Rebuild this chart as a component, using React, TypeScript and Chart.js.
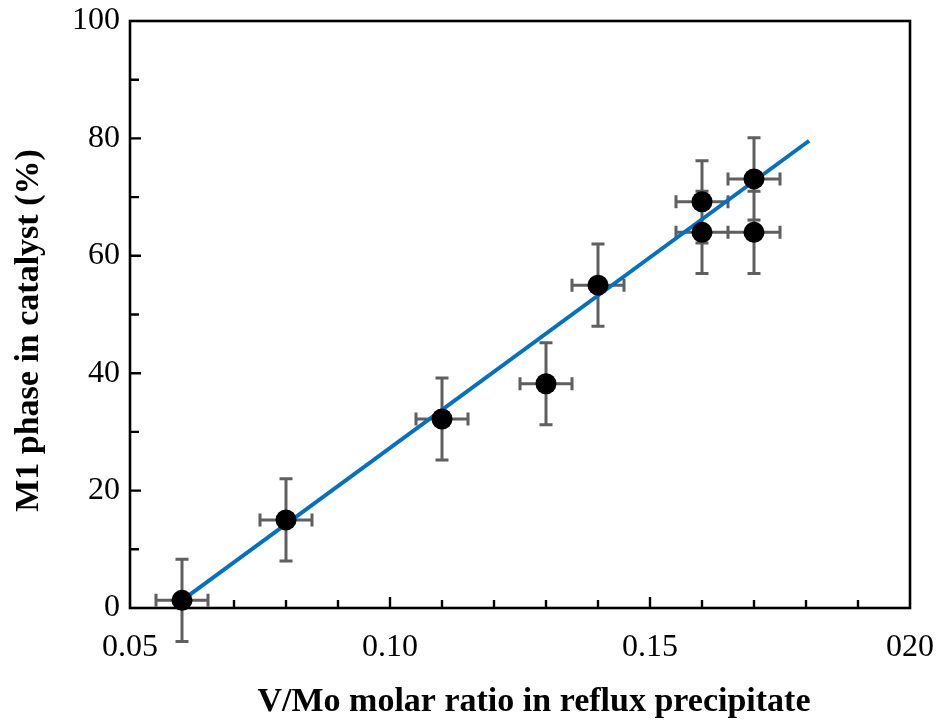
import React, { useEffect, useRef } from "react";
import { Chart, registerables } from "chart.js";

Chart.register(...registerables);

// ---- data ----
const ratios = [0.06, 0.08, 0.11, 0.13, 0.14, 0.16, 0.16, 0.17, 0.17];
const m1Phase = [1.3, 15, 32.2, 38.2, 55, 69.2, 64, 73.1, 64];
const m1Error = [7, 7, 7, 7, 7, 7, 7, 7, 7];
const ratioError = [0.005, 0.005, 0.005, 0.005, 0.005, 0.005, 0.005, 0.005, 0.005];
const fitX = [0.06, 0.1806];
const fitY = [1.3, 79.6];
const xTickValues = [0.05, 0.1, 0.15, 0.2];
const xTickLabels = ["0.05", "0.10", "0.15", "020"];
const yTickValues = [0, 20, 40, 60, 80, 100];
const yTickLabels = ["0", "20", "40", "60", "80", "100"];
const xMinorTicks = [0.06, 0.07, 0.08, 0.09, 0.1, 0.11, 0.12, 0.13, 0.14, 0.15, 0.16, 0.17, 0.18, 0.19];
const yMinorTicks = [10, 20, 30, 40, 50, 60, 70, 80, 90];
const xTitle = "V/Mo molar ratio in reflux precipitate";
const yTitle = "M1 phase in catalyst (%)";

const SERIF = "'Liberation Serif', 'Times New Roman', serif";

const framePlugin = {
  id: "frameAndErrors",
  beforeDatasetsDraw(chart: any) {
    const { ctx, chartArea, scales } = chart;
    const xs = scales.x;
    const ys = scales.y;
    ctx.save();
    // frame
    ctx.strokeStyle = "#000";
    ctx.lineWidth = 2.6;
    ctx.strokeRect(chartArea.left, chartArea.top, chartArea.right - chartArea.left, chartArea.bottom - chartArea.top);
    // inward ticks
    ctx.lineWidth = 2.4;
    ctx.beginPath();
    xMinorTicks.forEach((v) => {
      const px = xs.getPixelForValue(v);
      const major = xTickValues.some((t) => Math.abs(t - v) < 1e-9);
      const len = major ? 11 : 8;
      ctx.moveTo(px, chartArea.bottom);
      ctx.lineTo(px, chartArea.bottom - len);
    });
    yMinorTicks.forEach((v) => {
      const py = ys.getPixelForValue(v);
      const major = yTickValues.includes(v);
      const len = major ? 11 : 9;
      ctx.moveTo(chartArea.left, py);
      ctx.lineTo(chartArea.left + len, py);
    });
    ctx.stroke();
    // error bars
    ctx.strokeStyle = "#5f5f5f";
    ctx.lineWidth = 3;
    const cap = 6.5;
    ctx.beginPath();
    ratios.forEach((rx, i) => {
      const px = xs.getPixelForValue(rx);
      const py = ys.getPixelForValue(m1Phase[i]);
      const yTop = ys.getPixelForValue(m1Phase[i] + m1Error[i]);
      const yBot = ys.getPixelForValue(m1Phase[i] - m1Error[i]);
      const xL = xs.getPixelForValue(rx - ratioError[i]);
      const xR = xs.getPixelForValue(rx + ratioError[i]);
      ctx.moveTo(px, yTop);
      ctx.lineTo(px, yBot);
      ctx.moveTo(px - cap, yTop);
      ctx.lineTo(px + cap, yTop);
      ctx.moveTo(px - cap, yBot);
      ctx.lineTo(px + cap, yBot);
      ctx.moveTo(xL, py);
      ctx.lineTo(xR, py);
      ctx.moveTo(xL, py - cap);
      ctx.lineTo(xL, py + cap);
      ctx.moveTo(xR, py - cap);
      ctx.lineTo(xR, py + cap);
    });
    ctx.stroke();
    ctx.restore();
  },
  afterDraw(chart: any) {
    const { ctx, chartArea } = chart;
    ctx.save();
    ctx.fillStyle = "#000";
    ctx.font = `bold 34px ${SERIF}`;
    ctx.textAlign = "center";
    ctx.textBaseline = "middle";
    ctx.fillText(xTitle, (chartArea.left + chartArea.right) / 2 + 14, chart.height - 20);
    ctx.translate(29, (chartArea.top + chartArea.bottom) / 2 + 16);
    ctx.rotate(-Math.PI / 2);
    ctx.fillText(yTitle, 0, 0);
    ctx.restore();
  },
};

const zeroPadding = (scale: any) => {
  scale.paddingTop = 0;
  scale.paddingBottom = 0;
  scale.paddingLeft = 0;
  scale.paddingRight = 0;
};

export default function App() {
  const ref = useRef<HTMLCanvasElement | null>(null);

  useEffect(() => {
    if (!ref.current) return;
    const chart = new Chart(ref.current, {
      type: "scatter",
      data: {
        datasets: [
          {
            type: "scatter",
            label: "M1 phase",
            data: ratios.map((x, i) => ({ x, y: m1Phase[i] })),
            backgroundColor: "#000",
            borderColor: "#000",
            borderWidth: 0,
            pointRadius: 10.5,
            pointHoverRadius: 10.5,
            clip: false,
            order: 0,
          } as any,
          {
            type: "line",
            label: "fit",
            data: fitX.map((x, i) => ({ x, y: fitY[i] })),
            borderColor: "#0070C0",
            borderWidth: 4,
            pointRadius: 0,
            fill: false,
            showLine: true,
            clip: false,
            order: 1,
          } as any,
        ],
      },
      options: {
        responsive: false,
        animation: false,
        events: [],
        layout: { padding: { top: 21, right: 30, left: 0, bottom: 0 } },
        plugins: {
          legend: { display: false },
          tooltip: { enabled: false },
          title: { display: false },
        },
        scales: {
          x: {
            type: "linear",
            min: 0.05,
            max: 0.2,
            border: { display: false },
            grid: { display: false, drawTicks: false },
            afterBuildTicks: (scale: any) => {
              scale.ticks = xTickValues.map((v) => ({ value: v }));
            },
            afterFit: (scale: any) => {
              scale.height = 114;
              zeroPadding(scale);
            },
            ticks: {
              padding: 20,
              maxRotation: 0,
              autoSkip: false,
              color: "#000",
              font: { family: SERIF, size: 32 },
              callback: (_v: any, i: number) => xTickLabels[i],
            },
          },
          y: {
            type: "linear",
            min: 0,
            max: 100,
            border: { display: false },
            grid: { display: false, drawTicks: false },
            afterBuildTicks: (scale: any) => {
              scale.ticks = yTickValues.map((v) => ({ value: v }));
            },
            afterFit: (scale: any) => {
              scale.width = 130;
              zeroPadding(scale);
            },
            ticks: {
              padding: 10,
              autoSkip: false,
              color: "#000",
              font: { family: SERIF, size: 32 },
              callback: (_v: any, i: number) => yTickLabels[i],
            },
          },
        },
      },
      plugins: [framePlugin],
    });
    return () => chart.destroy();
  }, []);

  return (
    <canvas
      ref={ref}
      width={940}
      height={722}
      style={{ position: "absolute", left: 0, top: 0, width: 940, height: 722, display: "block" }}
    />
  );
}
